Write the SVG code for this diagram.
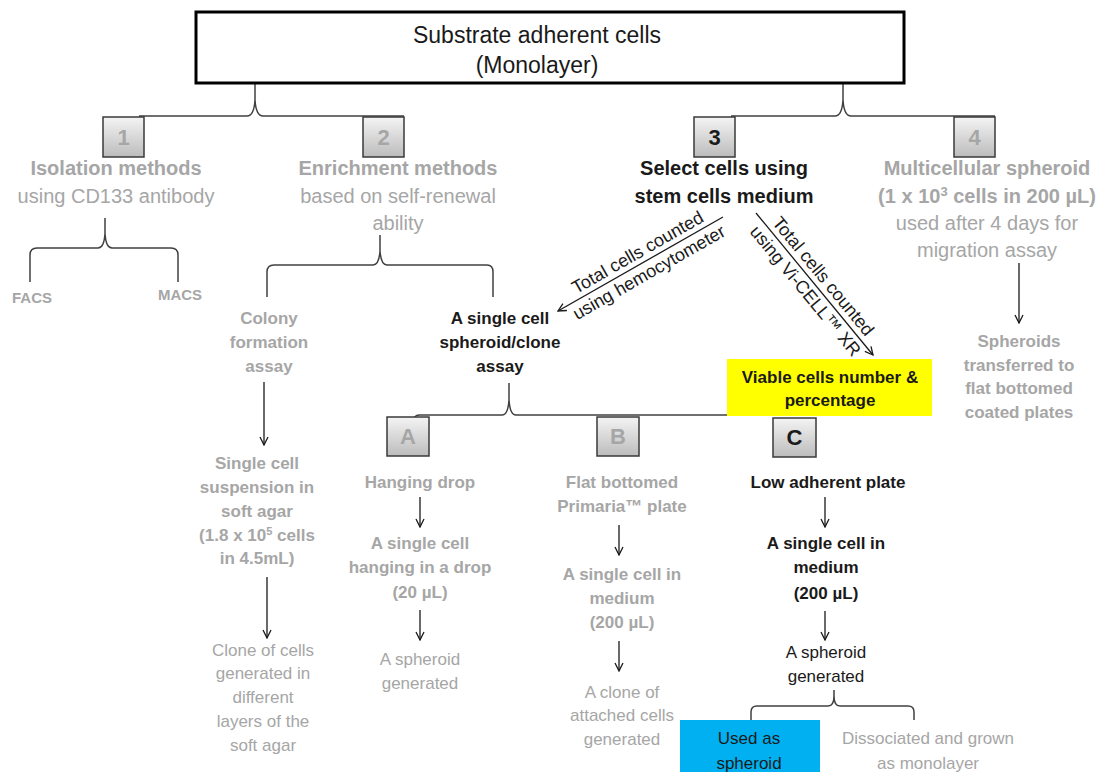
<svg xmlns="http://www.w3.org/2000/svg" width="1103" height="772" viewBox="0 0 1103 772">
<defs>
<linearGradient id="bg" x1="0" y1="0" x2="0" y2="1">
<stop offset="0" stop-color="#f4f4f4"/>
<stop offset="1" stop-color="#bcbcbc"/>
</linearGradient>
<marker id="ah" viewBox="0 0 10 10" refX="9" refY="5" markerWidth="10" markerHeight="10" markerUnits="userSpaceOnUse" orient="auto">
<path d="M1,1 L9,5 L1,9" fill="none" stroke="#1a1a1a" stroke-width="1.3"/>
</marker>
</defs>
<style>
text{font-family:'Liberation Sans',Arial,sans-serif;text-anchor:middle}
.g{fill:#a6a6a6}
.k{fill:#1a1a1a}
.b{font-weight:bold}
.s15{font-size:15px}
.s17{font-size:17px}
.s18{font-size:18px}
.s20{font-size:20px}
.s22{font-size:22px}
.nb{fill:url(#bg);stroke:#3a3a3a;stroke-width:1.5}
.br{fill:none;stroke:#404040;stroke-width:1.5}
.ar{fill:none;stroke:#1a1a1a;stroke-width:1.3;marker-end:url(#ah)}
</style>
<rect width="1103" height="772" fill="#ffffff"/>

<g id="connectors">
<path class="br" d="M139,116 L247,116 Q254,116 255,100 L255,83 M255,100 Q256,116 263,116 L404,116"/>
<path class="br" d="M731,116 L835,116 Q842,116 843,100 L843,83 M843,100 Q844,116 851,116 L995,116"/>
<path class="br" d="M30,282 L30,255 Q30,248 37,248 L98,248 Q104,248 105,234 L105,218 M105,234 Q106,248 112,248 L171,248 Q178,248 178,255 L178,282"/>
<path class="br" d="M267,297 L267,272 Q267,265 274,265 L373,265 Q379,265 380,251 L380,235 M380,251 Q381,265 387,265 L487,265 Q493,265 493,272 L493,297"/>
<path class="br" d="M414,420 Q414,415 420,415 L502,415 Q508,415 509,400 L509,383 M509,400 Q510,415 516,415 L800,415"/>
<path class="br" d="M751,720 L751,712 Q751,706 757,706 L828,706 Q834,706 834,696 L834,690 M834,696 Q834,706 840,706 L908,706 Q914,706 914,712 L914,720"/>
<line class="ar" x1="264" y1="382" x2="264" y2="445"/>
<line class="ar" x1="267" y1="577" x2="267" y2="638"/>
<line class="ar" x1="420" y1="497" x2="420" y2="527"/>
<line class="ar" x1="420" y1="610" x2="420" y2="640"/>
<line class="ar" x1="619" y1="525" x2="619" y2="555"/>
<line class="ar" x1="619" y1="641" x2="619" y2="671"/>
<line class="ar" x1="825" y1="497" x2="825" y2="527"/>
<line class="ar" x1="825" y1="611" x2="825" y2="640"/>
<line class="ar" x1="1019" y1="263" x2="1019" y2="323"/>
<line class="ar" x1="723" y1="217" x2="558" y2="311"/>
<line class="ar" x1="756" y1="213" x2="873" y2="355"/>
<g transform="translate(643,262) rotate(-29.7)">
<text class="k s18" x="0" y="-5">Total cells counted</text>
<text class="k s18" x="0" y="18">using hemocytometer</text>
</g>
<g transform="translate(814,284) rotate(50.5)">
<text class="k s18" x="0" y="-6">Total cells counted</text>
<text class="k s18" x="0" y="17">using Vi-CELL™ XR</text>
</g>
</g>

<g id="top">
<rect x="196" y="12" width="708" height="71" fill="#ffffff" stroke="#000000" stroke-width="3"/>
<text class="k" style="font-size:23px" x="537" y="43">Substrate adherent cells</text>
<text class="k" style="font-size:23px" x="537" y="73">(Monolayer)</text>
</g>

<g id="n1">
<rect class="nb" x="103" y="117" width="41" height="40"/>
<text class="g b s22" x="123.5" y="145">1</text>
</g>
<g id="n2">
<rect class="nb" x="363" y="117" width="41" height="40"/>
<text class="g b s22" x="383.5" y="145">2</text>
</g>
<g id="n3">
<rect class="nb" x="694" y="117" width="41" height="40"/>
<text class="k b s22" x="714.5" y="145">3</text>
</g>
<g id="n4">
<rect class="nb" x="954" y="117" width="41" height="40"/>
<text class="g b s22" x="974.5" y="145">4</text>
</g>

<g id="isolation">
<text class="g b s20" x="116" y="175">Isolation methods</text>
<text class="g s20" x="116" y="203">using CD133 antibody</text>
</g>
<g id="facs"><text class="g b s15" x="32" y="303">FACS</text></g>
<g id="macs"><text class="g b s15" x="180" y="300">MACS</text></g>

<g id="enrichment">
<text class="g b s20" x="398" y="175">Enrichment methods</text>
<text class="g s20" x="398" y="203">based on self-renewal</text>
<text class="g s20" x="398" y="230">ability</text>
</g>

<g id="select">
<text class="k b s20" x="724" y="175">Select cells using</text>
<text class="k b s20" x="724" y="203">stem cells medium</text>
</g>

<g id="multicellular">
<text class="g b s20" x="987" y="175">Multicellular spheroid</text>
<text class="g b s20" x="987" y="203">(1 x 10<tspan font-size="13" baseline-shift="super">3</tspan> cells in 200 µL)</text>
<text class="g s20" x="987" y="230">used after 4 days for</text>
<text class="g s20" x="987" y="257">migration assay</text>
</g>

<g id="spheroids-transferred">
<text class="g b s17" x="1019" y="347">Spheroids</text>
<text class="g b s17" x="1019" y="371">transferred to</text>
<text class="g b s17" x="1019" y="394">flat bottomed</text>
<text class="g b s17" x="1019" y="418">coated plates</text>
</g>

<g id="colony">
<text class="g b s17" x="269" y="324">Colony</text>
<text class="g b s17" x="269" y="348">formation</text>
<text class="g b s17" x="269" y="372">assay</text>
</g>

<g id="suspension">
<text class="g b s17" x="257" y="469">Single cell</text>
<text class="g b s17" x="257" y="493">suspension in</text>
<text class="g b s17" x="257" y="517">soft agar</text>
<text class="g b s17" x="257" y="541">(1.8 x 10<tspan font-size="11" baseline-shift="super">5</tspan> cells</text>
<text class="g b s17" x="257" y="564">in 4.5mL)</text>
</g>

<g id="clone-agar">
<text class="g s17" x="263" y="656">Clone of cells</text>
<text class="g s17" x="263" y="679">generated in</text>
<text class="g s17" x="263" y="703">different</text>
<text class="g s17" x="263" y="727">layers of the</text>
<text class="g s17" x="263" y="751">soft agar</text>
</g>

<g id="single-assay">
<text class="k b s17" x="500" y="324">A single cell</text>
<text class="k b s17" x="500" y="348">spheroid/clone</text>
<text class="k b s17" x="500" y="372">assay</text>
</g>

<g id="viable">
<rect x="727" y="359" width="205" height="57" fill="#ffff00"/>
<text class="k b s17" x="830" y="383">Viable cells number &amp;</text>
<text class="k b s17" x="830" y="406">percentage</text>
</g>

<g id="nA">
<rect class="nb" x="387" y="417" width="42" height="39"/>
<text class="g b s22" x="408" y="444">A</text>
</g>
<g id="nB">
<rect class="nb" x="597" y="417" width="42" height="39"/>
<text class="g b s22" x="618" y="444">B</text>
</g>
<g id="nC">
<rect class="nb" x="773" y="418" width="43" height="39"/>
<text class="k b s22" x="794.5" y="445">C</text>
</g>

<g id="hanging">
<text class="g b s17" x="420" y="488">Hanging drop</text>
</g>
<g id="hanging-cell">
<text class="g b s17" x="420" y="549">A single cell</text>
<text class="g b s17" x="420" y="573">hanging in a drop</text>
<text class="g b s17" x="420" y="598">(20 µL)</text>
</g>
<g id="hanging-spheroid">
<text class="g s17" x="420" y="665">A spheroid</text>
<text class="g s17" x="420" y="689">generated</text>
</g>

<g id="flat">
<text class="g b s17" x="622" y="488">Flat bottomed</text>
<text class="g b s17" x="622" y="512">Primaria™ plate</text>
</g>
<g id="flat-cell">
<text class="g b s17" x="622" y="580">A single cell in</text>
<text class="g b s17" x="622" y="604">medium</text>
<text class="g b s17" x="622" y="628">(200 µL)</text>
</g>
<g id="flat-clone">
<text class="g s17" x="622" y="698">A clone of</text>
<text class="g s17" x="622" y="721">attached cells</text>
<text class="g s17" x="622" y="745">generated</text>
</g>

<g id="low">
<text class="k b s17" x="828" y="488">Low adherent plate</text>
</g>
<g id="low-cell">
<text class="k b s17" x="826" y="549">A single cell in</text>
<text class="k b s17" x="826" y="573">medium</text>
<text class="k b s17" x="826" y="599">(200 µL)</text>
</g>
<g id="low-spheroid">
<text class="k s17" x="826" y="658">A spheroid</text>
<text class="k s17" x="826" y="682">generated</text>
</g>

<g id="used">
<rect x="680" y="720" width="140" height="52" fill="#00b0f0"/>
<text class="k s17" x="749" y="744">Used as</text>
<text class="k s17" x="749" y="769">spheroid</text>
</g>
<g id="dissociated">
<text class="g s17" x="928" y="744">Dissociated and grown</text>
<text class="g s17" x="928" y="769">as monolayer</text>
</g>
</svg>
